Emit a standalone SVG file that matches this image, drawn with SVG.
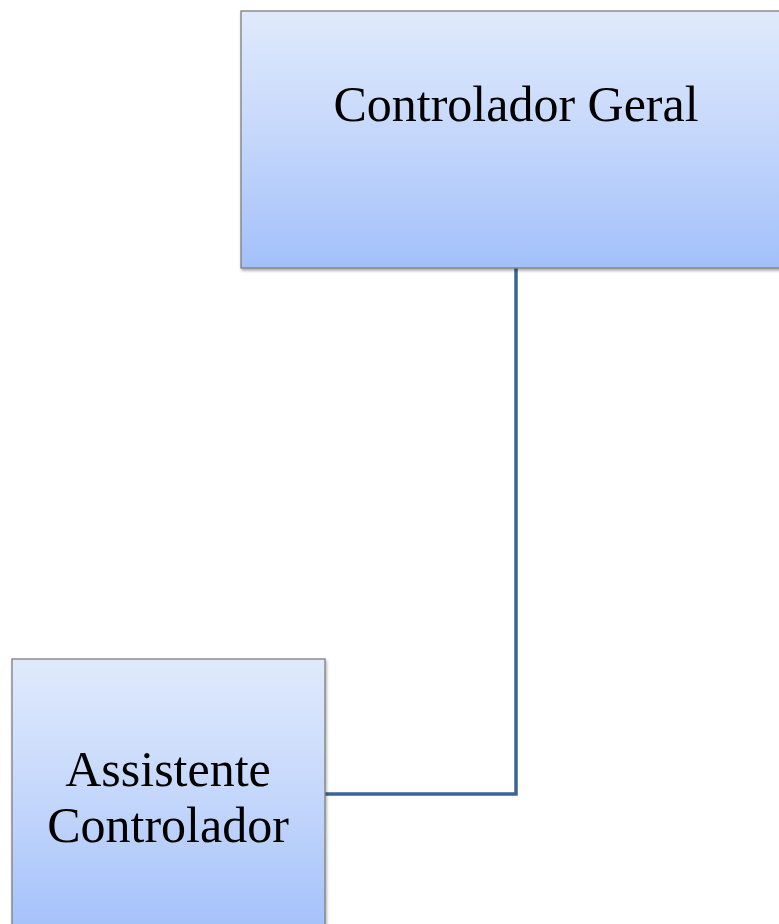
<svg xmlns="http://www.w3.org/2000/svg" width="779" height="924" viewBox="0 0 779 924">
<defs>
<linearGradient id="g" x1="0" y1="0" x2="0" y2="1">
<stop offset="0" stop-color="#e0eafc"/>
<stop offset="0.5" stop-color="#c4d7fb"/>
<stop offset="1" stop-color="#a2c0fa"/>
</linearGradient>
<filter id="sh" x="-5%" y="-5%" width="110%" height="110%">
<feDropShadow dx="1" dy="2" stdDeviation="1.5" flood-color="#000" flood-opacity="0.35"/>
</filter>
</defs>
<style>
.box{fill:url(#g);stroke:#7f7f7f;stroke-width:1.3;filter:url(#sh)}
.t{font-family:"Liberation Serif","Times New Roman",serif;font-size:50px;fill:#000;text-anchor:middle}
.c{fill:none;stroke:#3d6395;stroke-width:3.5}
</style>
<rect width="779" height="924" fill="#ffffff"/>
<g id="connectors">
<path class="c" d="M516,268 V794 H325"/>
</g>
<g id="controlador-geral">
<rect class="box" x="241" y="11" width="549" height="257"/>
<text class="t" x="516" y="121">Controlador Geral</text>
</g>
<g id="assistente-controlador">
<rect class="box" x="12" y="659" width="313" height="280"/>
<text class="t" x="168" y="786">Assistente</text>
<text class="t" x="168" y="842">Controlador</text>
</g>
</svg>
